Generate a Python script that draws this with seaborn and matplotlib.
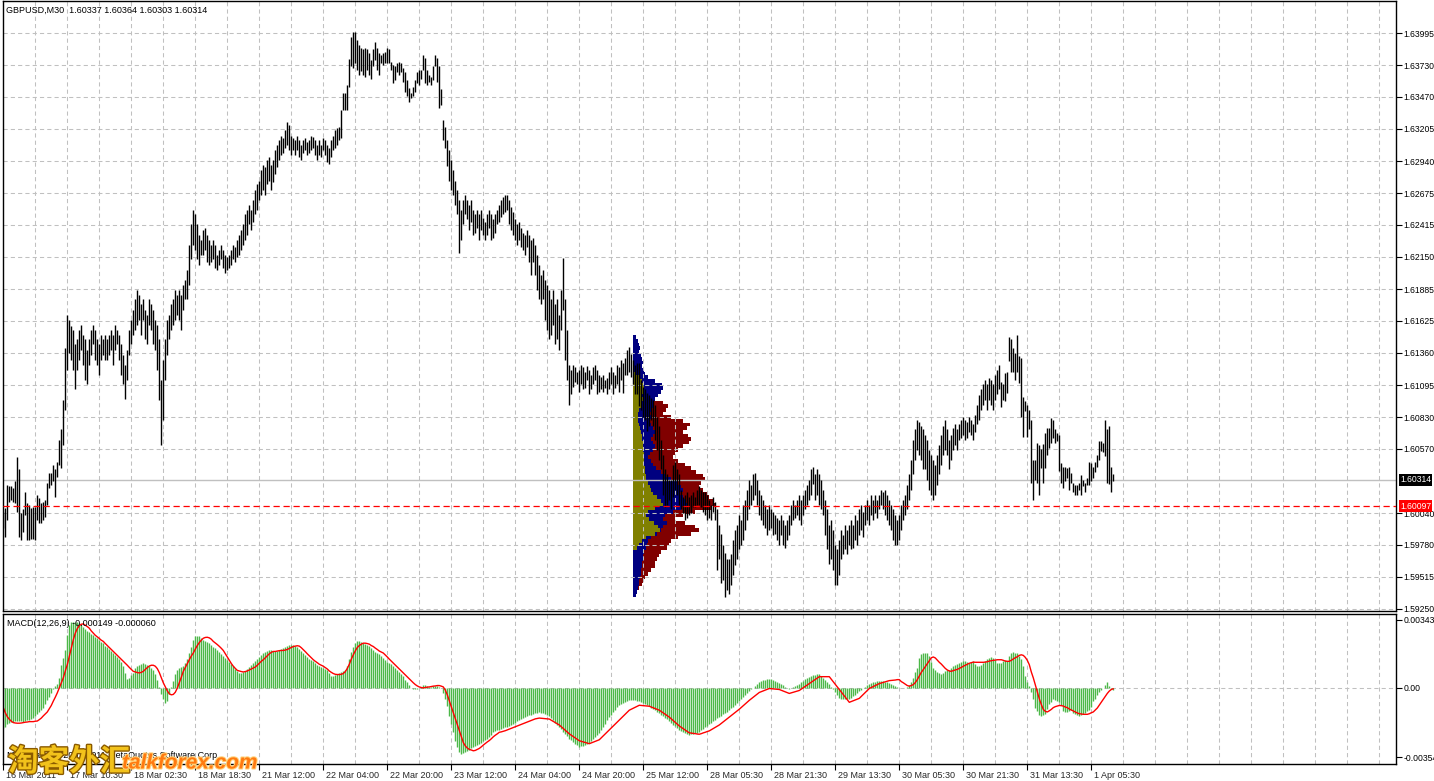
import numpy as np
import pandas as pd
import matplotlib
matplotlib.use("Agg")
import matplotlib.pyplot as plt
import matplotlib.transforms as mtransforms
import matplotlib.patheffects as pe
import seaborn as sns

# ---- data (prices in pips above 1.5900, MACD in 1e-5) ----
high = [
    105,108,127,126,126,125,130,150,140,104,107,121,112,111,108,109,109,119,116,112,113,115,129,137,137,144,140,146,164,173,
    197,240,267,263,258,
    255,243,247,255,259,251,247,238,247,255,259,255,247,243,251,247,251,247,251,255,251,259,255,251,243,234,226,238,
    255,263,271,280,288,284,276,280,271,267,280,276,271,263,259,247,214,230,
    247,263,267,276,280,288,284,288,284,292,296,304,325,342,354,
    350,342,333,329,337,339,333,329,325,329,325,317,321,325,321,317,315,317,321,325,323,329,333,337,342,
    350,354,358,354,362,370,375,378,387,391,389,395,397,391,395,403,407,411,415,413,420,426,424,
    415,413,411,415,411,407,411,413,410,411,415,414,411,407,411,407,413,411,407,405,411,415,420,421,422,436,450,
    450,457,478,496,500,500,494,490,487,486,487,486,483,477,486,492,487,483,481,483,484,487,486,476,473,472,475,476,475,471,
    467,461,454,450,455,461,467,469,469,481,479,469,465,463,472,481,479,472,453,428,422,
    411,403,395,387,378,370,362,354,362,366,362,358,362,354,350,354,350,354,347,344,350,354,350,346,350,354,358,362,364,
    366,366,362,356,352,346,342,344,339,335,333,337,333,329,331,325,317,308,300,304,296,292,288,280,288,276,280,267,288,314,280,255,
    226,222,226,224,220,222,226,224,220,225,222,218,224,226,222,218,216,218,214,215,220,224,220,218,226,224,230,228,232,238,241,235,230,
    226,228,228,214,208,206,203,201,199,197,193,183,176,164,152,140,136,131,131,144,146,140,136,123,117,119,121,117,119,121,
    117,123,126,123,121,121,119,115,111,117,113,107,94,87,78,
    71,66,66,70,82,90,94,102,98,111,115,123,131,127,136,
    137,131,123,119,115,111,107,111,107,105,102,100,98,102,98,94,98,102,111,115,111,115,119,115,119,123,127,131,140,142,136,140,136,131,123,
    115,107,94,98,90,78,74,82,90,86,94,90,94,98,94,102,98,107,111,105,111,115,111,119,115,119,115,119,123,121,
    123,119,115,111,107,102,98,102,111,115,119,127,136,148,164,173,181,179,176,173,168,164,156,152,148,144,152,160,168,176,
    181,173,164,168,174,177,173,177,181,183,181,179,183,181,177,185,193,201,206,210,214,210,215,214,210,218,222,226,212,210,
    219,220,249,247,240,236,251,233,232,200,196,193,189,181,148,148,162,160,157,161,170,174,174,182,181,173,170,168,145,142,
    142,141,142,137,129,127,127,129,135,131,129,133,146,145,142,146,152,163,163,162,181,173,176,142,136,
]
low = [
    92,84,98,113,115,113,112,105,84,82,88,102,82,82,83,83,82,98,96,96,98,101,111,125,127,130,117,134,144,141,
    160,189,222,236,230,
    222,206,222,230,238,226,214,210,226,234,243,230,226,218,230,234,230,230,234,238,226,238,243,230,218,210,198,214,
    234,243,251,255,259,263,251,263,247,243,259,255,243,238,222,197,160,181,
    214,234,247,255,259,263,267,263,255,271,280,280,292,313,325,
    321,313,308,317,317,321,311,308,311,313,306,304,308,313,306,302,304,306,308,313,311,315,317,321,325,
    329,333,342,337,344,350,354,362,366,370,366,375,378,370,377,383,389,395,399,401,405,407,403,
    399,403,399,403,397,395,401,403,399,401,403,405,399,395,399,397,403,399,393,392,397,403,405,407,411,413,436,
    436,436,455,472,471,475,469,465,468,465,463,469,465,462,472,477,469,465,475,473,475,475,475,469,458,461,467,465,467,459,
    451,448,443,446,448,451,458,457,462,469,458,457,459,457,461,472,459,438,440,411,405,
    390,378,370,366,358,350,318,329,342,350,346,337,344,333,335,339,329,337,333,329,333,339,329,331,335,342,344,348,350,
    352,354,342,337,333,329,325,329,323,321,317,323,311,300,311,300,288,280,276,280,263,255,247,251,259,243,247,238,255,271,230,214,
    193,202,208,212,210,204,210,206,207,214,202,206,210,214,202,204,206,204,207,202,206,210,202,207,210,204,214,203,218,218,220,216,210,
    202,202,192,189,183,181,172,176,181,176,164,156,148,140,119,109,111,115,107,117,123,119,111,107,104,98,100,102,104,109,
    109,111,111,109,105,102,98,100,98,105,98,57,66,46,49,
    35,41,37,45,53,61,66,74,78,82,90,98,107,111,115,
    119,111,102,98,94,92,86,90,92,86,87,82,78,86,78,75,82,86,94,98,100,102,98,94,102,107,111,115,119,128,115,119,111,107,102,
    86,74,62,66,57,45,45,53,66,70,74,70,78,74,75,82,78,86,90,84,94,98,94,102,98,104,100,107,111,107,
    102,98,94,90,82,78,78,82,90,98,102,107,115,123,136,148,156,152,148,140,140,131,123,119,115,119,127,136,144,152,
    156,152,140,148,156,160,156,164,166,168,164,166,171,168,164,171,177,181,189,193,197,189,197,193,189,197,202,206,191,197,
    196,203,229,220,220,214,220,211,183,167,188,167,173,129,115,131,129,119,141,129,141,152,158,162,166,162,163,139,129,125,
    130,133,123,129,121,119,119,123,119,126,121,127,127,130,133,138,142,148,155,154,151,129,128,121,130,
]

macd_main = [
    -203,-198,-186,-180,-176,-175,-171,-170,-170,-170,-173,-168,-165,-163,-158,-153,-144,-134,-124,-113,
    -102,-86,-64,-47,-30,-10,7,20,49,116,150,192,267,318,331,334,334,333,329,319,
    309,299,289,281,272,267,255,249,242,232,225,213,205,195,185,175,165,155,144,128,
    108,74,44,49,64,74,99,111,116,121,124,119,114,109,101,91,71,40,3,-35,
    -60,-81,-69,-35,3,32,71,87,97,102,108,124,144,175,208,242,259,262,259,250,
    242,237,232,227,218,208,198,188,180,170,158,148,138,128,118,108,94,84,76,74,
    77,86,94,104,114,124,134,144,155,165,175,180,185,190,188,183,183,185,190,195,
    200,205,210,215,218,217,212,205,195,183,175,165,155,144,138,133,124,114,109,104,
    99,94,87,75,60,57,62,67,72,77,82,91,108,144,178,208,225,234,234,230,
    225,220,215,210,203,192,182,173,168,160,150,138,131,126,118,108,97,87,77,67,
    57,40,27,12,0,-7,-7,-5,-2,3,15,12,8,3,5,7,8,10,5,-3,
    -27,-60,-94,-144,-186,-228,-270,-304,-329,-338,-333,-326,-321,-316,-309,-304,-299,-294,-289,-282,
    -270,-265,-259,-249,-239,-228,-223,-218,-213,
    -210,-206,-202,-198,-194,-190,-185,-180,-172,-165,-160,-155,-150,-145,-140,-137,-133,-130,-128,-125,
    -127,-130,-134,-140,-145,-155,-165,-178,-190,-200,-212,-225,-236,-248,-260,-268,-277,-285,-293,-300,
    -298,-295,-291,-286,-280,-272,-262,-252,-241,-230,-215,-200,-184,-167,-150,-138,-125,-113,-101,-90,
    -85,-79,-74,-69,-65,-63,-63,-65,-67,-70,-75,-80,-85,-90,-95,-102,-109,-116,-123,-130,
    -138,-146,-154,-162,-170,-179,-188,-197,-206,-215,-220,-225,-230,-235,-240,-238,-236,-233,-229,-225,
    -217,-209,-201,-193,-185,-178,-171,-164,-157,-150,-143,-136,-129,-122,-115,-106,-97,-88,-79,-70,
    -60,-50,-40,-30,-20,-10,0,10,20,30,33,36,39,42,45,41,37,33,29,25,
    18,11,4,-3,-10,-4,2,8,14,20,27,34,41,48,55,58,61,64,67,70,
    60,50,40,30,20,5,-10,-25,-40,-55,-56,-57,-58,-59,-60,-52,-44,-36,-28,-20,
    -12,-4,4,12,20,23,26,29,32,35,33,31,29,27,25,20,15,10,5,
    -2,-2,-2,0,3,15,27,49,77,99,150,168,175,175,175,158,128,99,91,79,
    74,71,74,84,87,87,97,108,113,118,126,131,136,133,128,124,128,133,121,111,
    109,114,124,134,145,151,155,150,138,126,126,126,133,139,136,161,176,178,175,173,
    161,145,108,57,27,7,-24,-60,-104,-119,-139,-144,-141,-133,-111,-84,-71,-60,-62,-69,
    -74,-87,-119,-124,-124,-121,-116,-128,-136,-141,-144,-141,-136,-128,-121,-114,-97,-69,-60,-37,
    -24,-12,-2,15,27,10,-5,-15,
]
macd_signal = [
    -102,-128,-148,-161,-171,-178,-180,-181,-181,-180,-178,-176,-175,-173,-173,-173,-171,-170,-163,-155,
    -144,-134,-124,-108,-91,-69,-49,-27,-2,24,49,84,116,158,200,242,276,299,314,321,
    323,316,309,301,287,276,265,257,249,240,234,223,213,203,193,183,173,163,153,143,
    133,123,113,102,92,82,79,76,74,77,82,92,101,109,113,113,108,96,76,50,
    24,3,-17,-32,-37,-35,-24,-3,24,52,82,102,121,141,160,175,195,213,228,240,
    250,254,255,252,245,234,226,218,209,199,188,172,155,138,122,108,97,87,84,81,
    79,81,84,89,94,99,104,113,123,133,141,151,161,171,178,183,183,185,187,188,
    188,190,193,198,203,208,210,212,210,202,192,182,171,161,151,141,133,126,118,113,
    108,101,94,84,77,71,67,66,66,67,71,81,97,118,144,166,186,203,213,220,
    225,225,223,220,213,208,200,193,185,180,175,165,155,144,134,124,114,104,94,84,
    74,64,54,44,34,24,15,8,3,0,-2,0,2,3,5,7,8,10,10,7,
    3,-13,-37,-67,-97,-128,-158,-188,-218,-249,-279,-296,-307,-314,-317,-321,-319,-314,-309,-301,
    -292,-284,-276,-269,-260,-250,-242,-235,-227,
    -225,-222,-219,-215,-211,-207,-203,-199,-195,-191,-187,-183,-179,-175,-171,-167,-163,-159,-157,-155,
    -156,-157,-158,-159,-160,-166,-172,-178,-184,-190,-199,-208,-217,-226,-235,-242,-249,-256,-263,-270,
    -273,-276,-279,-282,-285,-281,-277,-273,-269,-265,-255,-245,-235,-225,-215,-205,-195,-185,-175,-165,
    -155,-145,-135,-125,-115,-110,-105,-100,-95,-90,-91,-92,-93,-94,-95,-99,-103,-107,-111,-115,
    -122,-129,-136,-143,-150,-159,-168,-177,-186,-195,-202,-209,-216,-223,-230,-231,-233,-234,-236,-237,
    -234,-230,-227,-223,-220,-214,-208,-202,-196,-190,-182,-174,-166,-158,-150,-142,-134,-126,-118,-110,
    -101,-92,-83,-74,-65,-57,-49,-41,-33,-25,-21,-17,-13,-9,-5,-6,-7,-8,-9,-10,
    -14,-18,-22,-26,-30,-27,-24,-21,-18,-15,-8,-1,6,13,20,27,34,41,48,55,
    55,55,55,55,55,42,29,16,3,-10,-23,-36,-49,-62,-75,-71,-67,-63,-59,-55,
    -45,-35,-25,-15,-5,0,5,10,15,20,23,26,29,32,35,36,37,38,40,
    40,30,24,17,10,7,10,15,25,40,59,77,91,106,121,136,151,155,150,139,
    128,119,108,97,89,84,82,86,89,92,97,102,108,113,118,123,126,129,128,128,
    128,128,128,129,131,134,136,138,139,141,141,141,138,134,133,133,138,145,151,156,
    163,166,163,153,138,116,79,49,13,-22,-57,-86,-111,-121,-124,-118,-111,-102,-97,-94,
    -91,-92,-94,-99,-102,-109,-114,-119,-124,-129,-133,-134,-136,-136,-136,-133,-128,-124,-114,-104,
    -89,-74,-60,-44,-30,-18,-10,-6,
]

# volume profile, drawn from bar profile_start, one row per 0.0003 from the top
profile_start = 315
profile_top = 1.6149
profile_step = 0.0003
vol_total = [0]*17 + [18,30,35,33,30,38,50,57,54,50,55,58,56,50,45,42,40,45,52,58,63,70,72,68,66,70,74,76,80,82,
                      78,62,50,42,52,62,66,58,45,38,36,34,28,26,24,22,22,18,15,12,10,9,6,0,0]
vol_mid = [3,5,6,7,6,8,9,10,9,11,12,15,22,29,30,28,25,22,20,20,18,17,18,17,18,20,22,20,18,20,22,20,17,15,18,20,
           23,28,33,38,45,48,50,46,50,53,54,48,40,32,30,34,30,28,24,18,15,14,13,11,10,10,9,9,8,8,7,6,6,5,4,3]
vol_low = [0]*10 + [3,6,9,10,11,10,9,10,9,8,6,5,5,5,6,7,8,9,9,10,10,10,11,11,11,11,12,12,13,13,15,17,18,20,24,
                    28,30,22,15,13,16,21,25,27,22,13,9,6,4] + [0]*13

price_ticks = [1.63995, 1.63730, 1.63470, 1.63205, 1.62940, 1.62675, 1.62415, 1.62150, 1.61885,
               1.61625, 1.61360, 1.61095, 1.60830, 1.60570, 1.60040, 1.59780, 1.59515, 1.59250]
time_labels = ['16 Mar 2011', '17 Mar 10:30', '18 Mar 02:30', '18 Mar 18:30', '21 Mar 12:00',
               '22 Mar 04:00', '22 Mar 20:00', '23 Mar 12:00', '24 Mar 04:00', '24 Mar 20:00',
               '25 Mar 12:00', '28 Mar 05:30', '28 Mar 21:30', '29 Mar 13:30', '30 Mar 05:30',
               '30 Mar 21:30', '31 Mar 13:30', '1 Apr 05:30']
bid_price = 1.60314
poc_price = 1.60097

n = min(len(high), len(low), len(macd_main), len(macd_signal))
df = pd.DataFrame({
    'bar': np.arange(n),
    'high': 1.59 + np.array(high[:n]) / 1e4,
    'low': 1.59 + np.array(low[:n]) / 1e4,
    'macd': np.array(macd_main[:n]) / 1e5,
    'signal': np.array(macd_signal[:n]) / 1e5,
})
levels = profile_top - profile_step * np.arange(len(vol_mid))

# ---- style ----
sns.set_theme(style="white")
plt.rcParams['font.family'] = ['Liberation Sans', 'Noto Sans CJK SC', 'DejaVu Sans']
FS = 6.5
YFS = 6.2
GRID = dict(color='#c0c0c0', lw=0.75, ls=(0, (4, 3)))
W, H = 1434, 781

fig = plt.figure(figsize=(W / 100, H / 100), dpi=100)
ax = fig.add_axes([2.5 / W, 1 - 611 / H, (1396 - 2.5) / W, 610 / H])
axm = fig.add_axes([2.5 / W, 1 - 764 / H, (1396 - 2.5) / W, 150 / H], sharex=ax)

xmin, xmax = -0.4, 696.35
ax.set_xlim(xmin, xmax)
ax.set_ylim(1.59233, 1.64259)
axm.set_ylim(-0.00388, 0.00373)

# volume profile
ax.barh(levels, np.array(vol_total) / 2, left=profile_start, height=profile_step,
        color='#800000', linewidth=0, zorder=1)
ax.barh(levels, np.array(vol_mid) / 2, left=profile_start, height=profile_step,
        color='#000080', linewidth=0, zorder=1.1)
ax.barh(levels, np.array(vol_low) / 2, left=profile_start, height=profile_step,
        color='#808000', linewidth=0, zorder=1.2)

# grid
for p in price_ticks:
    ax.axhline(p, zorder=2, **GRID)
for b in range(16, int(xmax), 16):
    ax.axvline(b, zorder=2, **GRID)
    axm.axvline(b, zorder=0.5, **GRID)
axm.axhline(0, zorder=0.5, **GRID)

# price bars
ax.vlines(df['bar'], df['low'], df['high'], color='black', lw=1.0, zorder=3)
ax.axhline(bid_price, color='#c0c0c0', lw=1.0, zorder=2.5)
ax.axhline(poc_price, color='red', lw=0.9, ls=(0, (5, 3)), zorder=4)

# MACD
axm.vlines(df['bar'], 0, df['macd'], color='#4cb848', lw=1.0, zorder=1)
sns.lineplot(data=df, x='bar', y='signal', ax=axm, color='red', lw=1.0, zorder=2)
axm.set_xlabel('')
axm.set_ylabel('')

# axes decoration
for a in (ax, axm):
    for s in a.spines.values():
        s.set_color('black')
        s.set_linewidth(1.0)
    a.yaxis.tick_right()
    a.tick_params(axis='y', direction='out', length=4, width=0.8, color='black',
                  labelsize=YFS, pad=1.5, labelcolor='black')
ax.set_yticks(price_ticks)
ax.set_yticklabels([f'{p:.5f}' for p in price_ticks])
ax.tick_params(axis='x', bottom=False, labelbottom=False)
axm.set_yticks([0.00343, 0.0, -0.00354])
axm.set_yticklabels(['0.00343', '0.00', '-0.00354'])

tick_bars = [32 * k for k in range(len(time_labels))]
axm.set_xticks(tick_bars)
axm.set_xticklabels(time_labels, ha='left')
axm.tick_params(axis='x', direction='out', length=4, width=0.8, color='black',
                labelsize=FS, pad=1, bottom=True)
shift = mtransforms.ScaledTranslation(2 / 72, 0, fig.dpi_scale_trans)
for lab in axm.get_xticklabels():
    lab.set_transform(lab.get_transform() + shift)

# current price tags on the right scale
for price, face in ((bid_price, 'black'), (poc_price, 'red')):
    ax.annotate(f'{price:.5f}', xy=(1, price), xycoords=('axes fraction', 'data'),
                xytext=(4, 0), textcoords='offset pixels', ha='left', va='center',
                fontsize=YFS, color='white', annotation_clip=False, zorder=10,
                bbox=dict(boxstyle='square,pad=0.15', facecolor=face, edgecolor='none'))

# texts
fig.text(6 / W, 1 - 10 / H, 'GBPUSD,M30  1.60337 1.60364 1.60303 1.60314',
         fontsize=FS, va='center', ha='left', color='black')
fig.text(7 / W, 1 - 623 / H, 'MACD(12,26,9) -0.000149 -0.000060',
         fontsize=FS, va='center', ha='left', color='black')
fig.text(7 / W, 1 - 755 / H, 'MetaTrader ? 2001-2011 MetaQuotes Software Corp.',
         fontsize=FS, va='center', ha='left', color='black')

# watermark
fig.text(8 / W, 1 - 762 / H, '淘客外汇', fontsize=22, fontweight='bold',
         family=['Noto Sans CJK SC', 'DejaVu Sans'], color='#f2c21b', va='center', ha='left',
         path_effects=[pe.withStroke(linewidth=2, foreground='#8a5a00')])
fig.text(122 / W, 1 - 763 / H, 'talkforex.com', fontsize=15, fontweight='bold', style='italic',
         color='#ff7a10', va='center', ha='left',
         path_effects=[pe.withStroke(linewidth=1.5, foreground='#ffd27a')])

fig.savefig('out.png', dpi=100, facecolor='white')
